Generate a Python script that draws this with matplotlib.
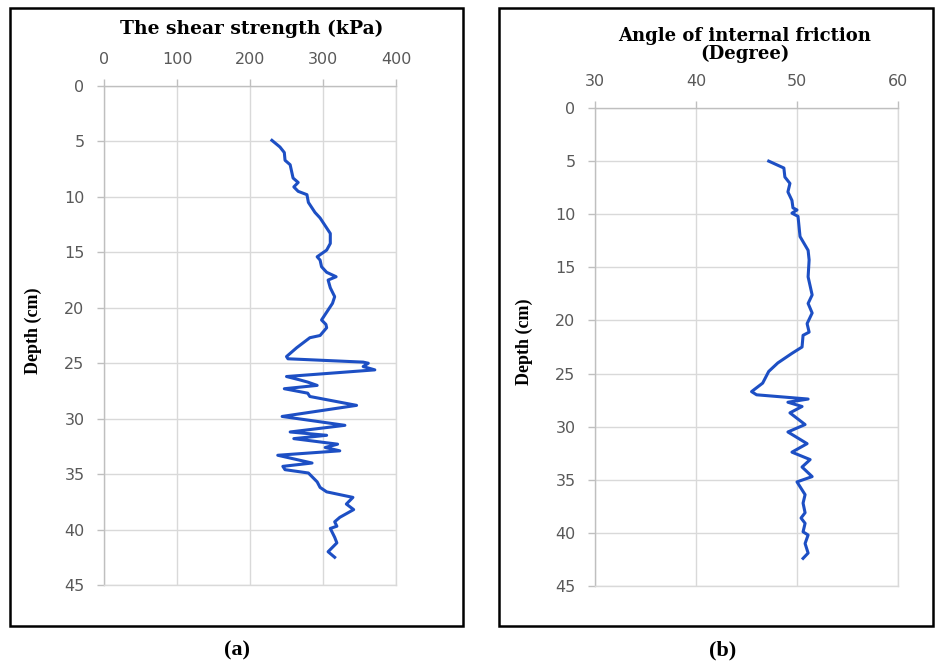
import matplotlib
matplotlib.use("Agg")
import matplotlib.pyplot as plt
from matplotlib.patches import Rectangle

# (a) shear strength (kPa) vs depth (cm)
shear_kpa = [230, 241, 247, 248, 255, 257, 259, 266, 260, 266, 278, 280, 289, 296, 302, 310,
             310, 305, 292, 296, 298, 305, 318, 307, 310, 316, 313, 307, 301, 298, 304, 305,
             296, 282, 264, 250, 252, 355, 362, 355, 371, 250, 268, 279, 292, 247, 279, 282,
             346, 244, 330, 255, 305, 260, 320, 303, 323, 238, 285, 245, 248, 280, 292, 296,
             305, 341, 332, 342, 323, 316, 319, 310, 316, 319, 307, 316]
shear_depth = [4.9, 5.5, 6.0, 6.7, 7.1, 7.7, 8.3, 8.7, 9.1, 9.5, 9.8, 10.5, 11.4, 11.9, 12.5, 13.3,
               14.2, 14.8, 15.4, 15.7, 16.3, 16.8, 17.2, 17.5, 18.2, 19.0, 19.6, 20.2, 20.8, 21.1, 21.5, 21.8,
               22.5, 22.7, 23.6, 24.4, 24.6, 24.9, 25.0, 25.3, 25.6, 26.2, 26.5, 26.7, 27.0, 27.3, 27.7, 28.0,
               28.8, 29.8, 30.6, 31.2, 31.5, 31.8, 32.3, 32.6, 32.9, 33.3, 34.0, 34.3, 34.6, 34.9, 35.7, 36.2,
               36.6, 37.1, 37.7, 38.2, 38.9, 39.3, 39.7, 39.9, 40.7, 41.2, 42.0, 42.5]

# (b) angle of internal friction (degree) vs depth (cm)
phi_deg = [47.2, 48.7, 48.8, 49.3, 49.1, 49.5, 49.6, 50.0, 49.5, 50.1, 50.3, 51.1, 51.2, 51.1,
           51.5, 51.1, 51.5, 51.0, 51.2, 50.6, 50.5, 49.5, 48.1, 47.2, 46.6, 45.5, 46.0, 51.1,
           49.1, 50.5, 49.3, 50.8, 49.1, 51.0, 49.5, 51.3, 50.5, 51.5, 50.0, 50.8, 50.6, 50.8,
           50.4, 50.8, 50.6, 51.1, 50.8, 51.1, 50.6]
phi_depth = [5.0, 5.65, 6.5, 7.1, 7.9, 8.7, 9.4, 9.6, 9.9, 10.2, 12.1, 13.4, 14.3, 15.9,
             17.6, 18.4, 19.3, 20.3, 21.1, 21.4, 22.5, 23.1, 24.0, 24.8, 25.9, 26.7, 27.0, 27.4,
             27.7, 28.1, 28.7, 29.8, 30.5, 31.6, 32.4, 33.1, 33.8, 34.7, 35.2, 36.4, 37.2, 38.1,
             38.6, 39.1, 39.9, 40.2, 41.0, 41.9, 42.4]

shear_ticks = [0, 100, 200, 300, 400]
phi_ticks = [30, 40, 50, 60]
depth_ticks = [0, 5, 10, 15, 20, 25, 30, 35, 40, 45]

W, H = 936, 664
fig = plt.figure(figsize=(W / 100, H / 100), dpi=100)
fig.patch.set_facecolor("white")

LINE = "#1d4fc4"
GRID = "#d9d9d9"
TICKC = "#595959"

def fx(px):
    return px / W

def fy(py):
    return 1 - py / H

def style(ax, xticks, xlim):
    ax.set_xlim(*xlim)
    ax.set_ylim(45, 0)
    ax.set_xticks(xticks)
    ax.set_yticks(depth_ticks)
    ax.xaxis.tick_top()
    ax.grid(True, color=GRID, linewidth=1.0)
    ax.set_axisbelow(True)
    for s in ["right", "bottom"]:
        ax.spines[s].set_color(GRID)
        ax.spines[s].set_linewidth(1.0)
    for s in ["left", "top"]:
        ax.spines[s].set_color("#bfbfbf")
        ax.spines[s].set_linewidth(1.0)
    ax.tick_params(axis="both", colors="#bfbfbf", labelcolor=TICKC, labelsize=11.5,
                   length=5, width=1.0)
    ax.tick_params(axis="x", pad=9)
    ax.tick_params(axis="y", pad=9)

ax1 = fig.add_axes([fx(104), fy(585), fx(396 - 104), (585 - 86) / H])
style(ax1, shear_ticks, (0, 400))
ax1.plot(shear_kpa, shear_depth, color=LINE, linewidth=2.2, solid_joinstyle="round")

ax2 = fig.add_axes([fx(595), fy(586), fx(898 - 595), (586 - 108) / H])
style(ax2, phi_ticks, (30, 60))
ax2.plot(phi_deg, phi_depth, color=LINE, linewidth=2.2, solid_joinstyle="round")

# panel frames
fig.add_artist(Rectangle((fx(10), fy(626)), fx(463 - 10), (626 - 8) / H,
                         transform=fig.transFigure, fill=False, edgecolor="black", linewidth=1.8))
fig.add_artist(Rectangle((fx(499), fy(626)), fx(933 - 499), (626 - 8) / H,
                         transform=fig.transFigure, fill=False, edgecolor="black", linewidth=1.8))

# titles
fig.text(fx(252), fy(29), "The shear strength (kPa)", ha="center", va="center",
         family="DejaVu Serif", fontweight="bold", fontsize=13.5)
fig.text(fx(745), fy(45), "Angle of internal friction\n(Degree)", ha="center", va="center",
         family="DejaVu Serif", fontweight="bold", fontsize=13, linespacing=0.95)

# y labels
fig.text(fx(33), fy(331), "Depth (cm)", rotation=90, ha="center", va="center",
         family="Liberation Serif", fontweight="bold", fontsize=13)
fig.text(fx(524), fy(342), "Depth (cm)", rotation=90, ha="center", va="center",
         family="Liberation Serif", fontweight="bold", fontsize=13)

# panel letters
fig.text(fx(237), fy(650), "(a)", ha="center", va="center",
         family="Liberation Serif", fontweight="bold", fontsize=16)
fig.text(fx(723), fy(650), "(b)", ha="center", va="center",
         family="Liberation Serif", fontweight="bold", fontsize=16)

fig.savefig("out.png", dpi=100, facecolor="white")
